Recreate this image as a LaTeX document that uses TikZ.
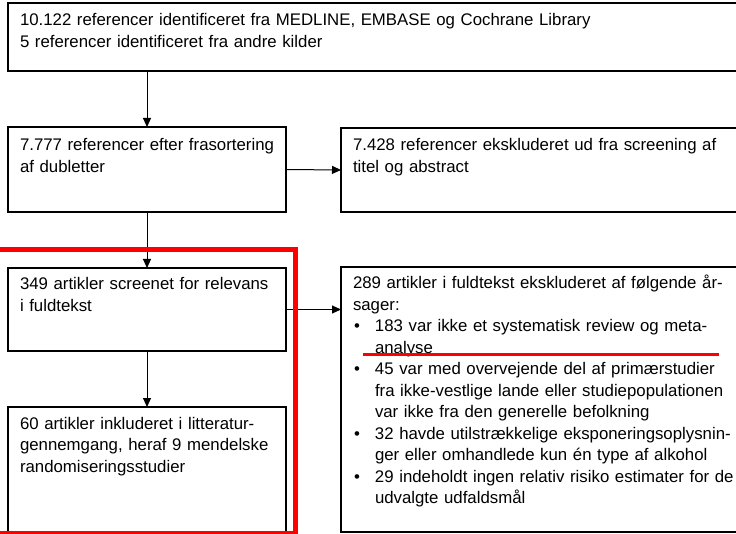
\documentclass[tikz,border=0pt]{standalone}
\usepackage{fontspec}
\setmainfont{Liberation Sans}
\usetikzlibrary{arrows.meta}
\newcommand{\bul}{\makebox[22pt][l]{\hspace{1pt}\textbullet}}
\newcommand{\ind}{\hspace*{22pt}}

\begin{document}
\begin{tikzpicture}[x=1pt, y=-1pt,
        flowbox/.style={draw, line width=1.2pt, anchor=north west, align=left,
            inner xsep=12pt, inner ysep=0pt, outer sep=0pt,
            font=\fontsize{16.8}{21.5}\selectfont},
        flowarrow/.style={line width=1pt, -{Triangle[length=9pt,width=8pt]}}]
        \useasboundingbox (0,0) rectangle (736,534);
        % boxes
        \node[flowbox, text width=713pt, text height=23pt, text depth=45pt] (found) at (8,3)
            {10.122 referencer identificeret fra MEDLINE, EMBASE og Cochrane Library\\
             5 referencer identificeret fra andre kilder};
        \node[flowbox, text width=254pt, text height=24pt, text depth=61pt] (dedup) at (8,127)
            {7.777 referencer efter frasortering\\ af dubletter};
        \node[flowbox, text width=400pt, text height=23pt, text depth=61pt] (excl1) at (341,128)
            {7.428 referencer ekskluderet ud fra screening af\\ titel og abstract};
        \node[flowbox, text width=254pt, text height=22pt, text depth=61pt] (fulltext) at (8,268)
            {349 artikler screenet for relevans\\ i fuldtekst};
        \node[flowbox, text width=254pt, text height=22pt, text depth=103pt] (included) at (8,407)
            {60 artikler inkluderet i litteratur-\\ gennemgang, heraf 9 mendelske\\ randomiseringsstudier};
        \node[flowbox, text width=400pt, text height=22pt, text depth=243pt] (excl2) at (341,267)
            {289 artikler i fuldtekst ekskluderet af følgende år-\\
             sager:\\
             \bul 183 var ikke et systematisk review og meta-\\
             \ind analyse\\
             \bul 45 var med overvejende del af primærstudier\\
             \ind fra ikke-vestlige lande eller studiepopulationen\\
             \ind var ikke fra den generelle befolkning\\
             \bul 32 havde utilstrækkelige eksponeringsoplysnin-\\
             \ind ger eller omhandlede kun én type af alkohol\\
             \bul 29 indeholdt ingen relativ risiko estimater for de\\
             \ind udvalgte udfaldsmål};
        % arrows
        \draw[flowarrow] (found.south -| dedup.north) -- (dedup.north);
        \draw[flowarrow] (dedup.east) -- (excl1.west);
        \draw[flowarrow] (dedup.south) -- (fulltext.north);
        \draw[flowarrow] (fulltext.east) -- (fulltext.east -| excl2.west);
        \draw[flowarrow] (fulltext.south) -- (included.north);
        % red marking
        \draw[red, line width=5pt] (-10,250) -| (295,533) -- (-10,533);
        \draw[red, line width=3pt] (363,355) -- (719,355);
    \end{tikzpicture}
\end{document}
